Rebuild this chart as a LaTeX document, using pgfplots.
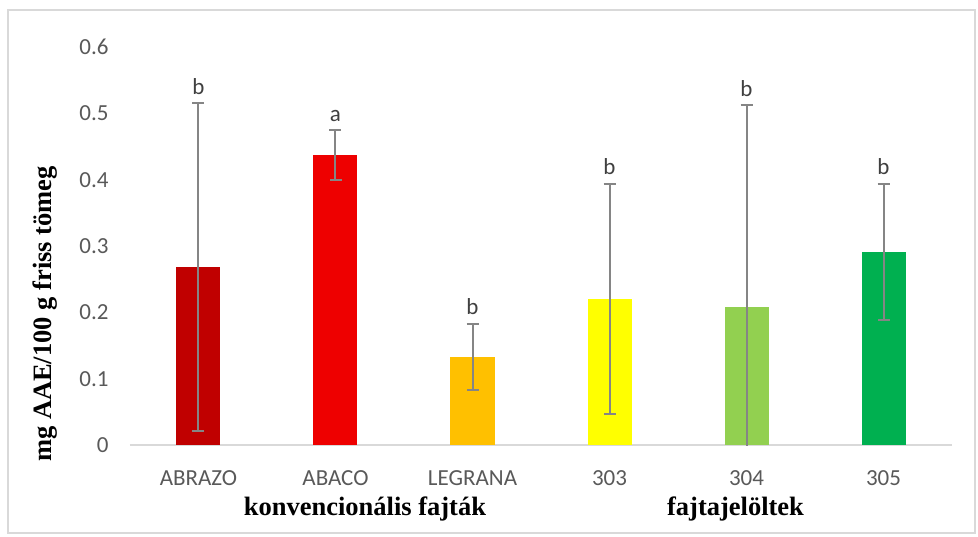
\documentclass[border=0pt]{standalone}
\usepackage{pgfplots}
\pgfplotsset{compat=1.18}
\usepackage{fontspec}
\setmainfont{Carlito}
\newfontfamily\tnr{Liberation Serif}
\definecolor{c1}{HTML}{C00000}
\definecolor{c2}{HTML}{EE0000}
\definecolor{c3}{HTML}{FFC000}
\definecolor{c4}{HTML}{FFFF00}
\definecolor{c5}{HTML}{92D050}
\definecolor{c6}{HTML}{00B050}
\definecolor{tick}{HTML}{595959}
\definecolor{errc}{HTML}{858585}
\definecolor{axc}{HTML}{D9D9D9}
\begin{document}
\begin{tikzpicture}
\begin{axis}[
  scale only axis, width=822pt, height=398pt,
  xmin=-0.5, xmax=5.5, ymin=0, ymax=0.6,
  axis x line*=bottom, axis y line*=left,
  x axis line style={draw=axc, line width=1.5pt, -},
  y axis line style={draw=none},
  xtick={0,...,5}, xticklabels={ABRAZO,ABACO,LEGRANA,303,304,305},
  major tick length=0pt,
  ytick={0,0.1,...,0.6},
  tick label style={font=\fontsize{23}{27}\selectfont, text=tick},
  xticklabel style={yshift=-22pt},
  yticklabel style={xshift=-18pt},
  /pgf/number format/assume math mode=true,
  /pgf/number format/fixed, /pgf/number format/precision=1,
  error bars/error bar style={draw=errc, line width=2pt},
  error bars/error mark options={draw=errc, line width=2pt, mark size=6pt, rotate=90},
  bar width=44pt,
]
\addplot[ybar, bar shift=0pt, fill=c1, draw=none, error bars/.cd, y dir=both, y explicit] coordinates {(0,0.268) +- (0,0.247)};
\addplot[ybar, bar shift=0pt, fill=c2, draw=none, error bars/.cd, y dir=both, y explicit] coordinates {(1,0.437) +- (0,0.038)};
\addplot[ybar, bar shift=0pt, fill=c3, draw=none, error bars/.cd, y dir=both, y explicit] coordinates {(2,0.133) +- (0,0.050)};
\addplot[ybar, bar shift=0pt, fill=c4, draw=none, error bars/.cd, y dir=both, y explicit] coordinates {(3,0.220) +- (0,0.173)};
\addplot[ybar, bar shift=0pt, fill=c5, draw=none, error bars/.cd, y dir=both, y explicit] coordinates {(4,0.208) +- (0,0.305)};
\addplot[ybar, bar shift=0pt, fill=c6, draw=none, error bars/.cd, y dir=both, y explicit] coordinates {(5,0.291) +- (0,0.103)};
\addplot[draw=none, mark=none, nodes near coords, point meta=explicit symbolic,
  nodes near coords style={anchor=south, yshift=5pt, font=\fontsize{23}{27}\selectfont, text=black!75}]
  table[meta=lab] {
x y lab
0 0.516 b
1 0.475 a
2 0.184 b
3 0.394 b
4 0.513 b
5 0.394 b
};
\coordinate (o) at (axis cs:-0.5,0);
\coordinate (g1) at (axis cs:1.215,0);
\coordinate (g2) at (axis cs:3.92,0);
\end{axis}
\node[anchor=base, font=\tnr\bfseries\fontsize{26.5}{31}\selectfont] at ([yshift=-70pt]g1) {konvencionális fajták};
\node[anchor=base, font=\tnr\bfseries\fontsize{26.5}{31}\selectfont] at ([yshift=-70pt]g2) {fajtajelöltek};
\node[rotate=90, font=\tnr\bfseries\fontsize{26.5}{31}\selectfont] at ([xshift=-85pt,yshift=131pt]o) {mg AAE/100 g friss tömeg};
\draw[axc, line width=1.2pt] ([xshift=-122pt,yshift=-88pt]o) rectangle ([xshift=845pt,yshift=435pt]o);
\path ([xshift=-130pt,yshift=-91pt]o) rectangle ([xshift=848pt,yshift=445pt]o);
\end{tikzpicture}
\end{document}
